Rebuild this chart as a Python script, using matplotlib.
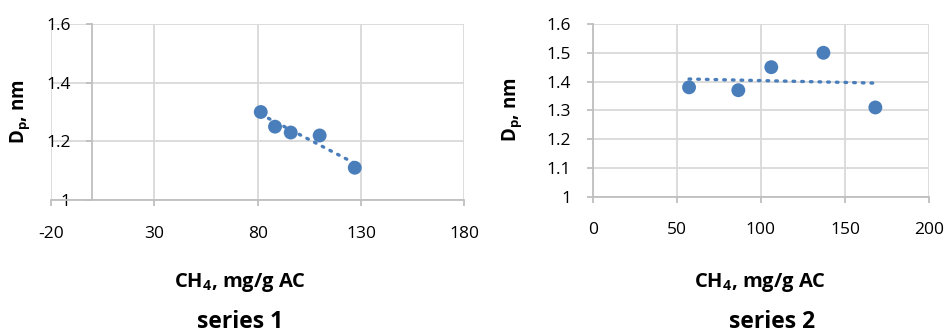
import numpy as np
import matplotlib
matplotlib.use("Agg")
import matplotlib.pyplot as plt

# data
x1 = [81.5, 88.4, 96.0, 110.0, 127.0]
y1 = [1.30, 1.25, 1.23, 1.22, 1.11]
x2 = [57.3, 86.6, 106.2, 137.2, 168.1]
y2 = [1.38, 1.37, 1.45, 1.50, 1.31]

xticks1 = [-20, 30, 80, 130, 180]
yticks1 = [1.0, 1.2, 1.4, 1.6]
xticks2 = [0, 50, 100, 150, 200]
yticks2 = [1.0, 1.1, 1.2, 1.3, 1.4, 1.5, 1.6]
titles = ["series 1", "series 2"]

plt.rcParams["font.family"] = ["Open Sans", "DejaVu Sans"]
plt.rcParams["axes.unicode_minus"] = False
plt.rcParams["mathtext.fontset"] = "custom"
plt.rcParams["mathtext.rm"] = "Open Sans:bold"
plt.rcParams["mathtext.default"] = "rm"

blue = "#4a7ebb"
axis_c = "#bfbfbf"
grid_c = "#d9d9d9"

fig = plt.figure(figsize=(9.47, 3.35), dpi=100)
ax1 = fig.add_axes([51 / 947, 1 - 200 / 335, (464.3 - 51) / 947, 176 / 335])
ax2 = fig.add_axes([592.7 / 947, 1 - 196.7 / 335, (929 - 592.7) / 947, 172.7 / 335])


def fmt(v):
    return "%g" % v


def style(ax, xs, ys, xt, yt, yaxis_at):
    ax.scatter(xs, ys, s=100, color=blue, zorder=4, edgecolors="none")
    k, b = np.polyfit(xs, ys, 1)
    xx = np.array([min(xs), max(xs)])
    ax.plot(xx, k * xx + b, color=blue, lw=2.4, ls=(0, (0.5, 2.1)),
            dash_capstyle="round", zorder=3)
    ax.set_xlim(xt[0], xt[-1])
    ax.set_ylim(yt[0], yt[-1])
    ax.set_xticks(xt)
    ax.set_yticks(yt)
    ax.set_xticklabels([fmt(v) for v in xt])
    ax.set_yticklabels([fmt(v) for v in yt])
    ax.grid(True, color=grid_c, lw=1.3, zorder=0)
    ax.set_axisbelow(True)
    for s in ["top", "right"]:
        ax.spines[s].set_visible(False)
    ax.spines["left"].set_position(("data", yaxis_at))
    ax.spines["left"].set_color(axis_c)
    ax.spines["bottom"].set_color(axis_c)
    ax.spines["left"].set_linewidth(1.3)
    ax.spines["bottom"].set_linewidth(1.3)
    ax.tick_params(axis="both", colors=axis_c, labelcolor="black",
                   length=4.5, width=1.3, labelsize=12.5)
    ax.tick_params(axis="y", pad=11)
    ax.tick_params(axis="x", pad=14)


style(ax1, x1, y1, xticks1, yticks1, 0)
style(ax2, x2, y2, xticks2, yticks2, 0)

lab = dict(fontsize=14.5, fontweight="bold", ha="center", va="center")
fig.text(240 / 947, 1 - 283 / 335, r"CH$_4$, mg/g AC", **lab)
fig.text(760 / 947, 1 - 283 / 335, r"CH$_4$, mg/g AC", **lab)
ylab = dict(fontsize=13.5, fontweight="bold", ha="center", va="center",
            rotation=90)
fig.text(20 / 947, 1 - 112 / 335, r"D$_p$, nm", **ylab)
fig.text(512 / 947, 1 - 110 / 335, r"D$_p$, nm", **ylab)
fig.text(240 / 947, 1 - 322 / 335, titles[0], fontsize=16.5, fontweight="bold",
         ha="center", va="center")
fig.text(772 / 947, 1 - 322 / 335, titles[1], fontsize=16.5, fontweight="bold",
         ha="center", va="center")

fig.savefig("out.png", dpi=100)
